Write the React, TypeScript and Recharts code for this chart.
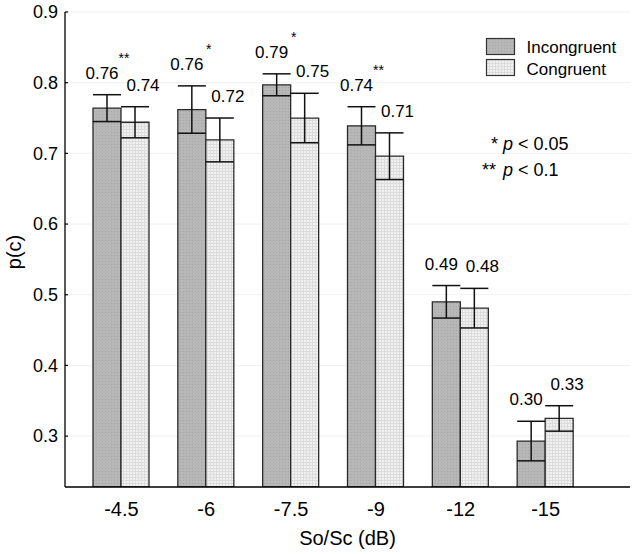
import React from 'react';
import { BarChart, Bar, XAxis, YAxis, CartesianGrid, ErrorBar, LabelList, Legend, Label } from 'recharts';

const categories = ['-4.5', '-6', '-7.5', '-9', '-12', '-15'];
const incongruent = [0.764, 0.762, 0.797, 0.739, 0.49, 0.293];
const incongruentErr = [0.019, 0.0335, 0.0155, 0.027, 0.023, 0.028];
const congruent = [0.744, 0.719, 0.75, 0.696, 0.481, 0.325];
const congruentErr = [0.022, 0.031, 0.035, 0.033, 0.028, 0.018];
const incongruentLabels = ['0.76', '0.76', '0.79', '0.74', '0.49', '0.30'];
const congruentLabels = ['0.74', '0.72', '0.75', '0.71', '0.48', '0.33'];
const significance = ['**', '*', '*', '**', '', ''];
const yTicks = [0.3, 0.4, 0.5, 0.6, 0.7, 0.8, 0.9];
const Y_MIN = 0.228;
const Y_MAX = 0.9;

const data = categories.map((c, i) => ({
  cat: c,
  inc: incongruent[i],
  incErr: incongruentErr[i],
  con: congruent[i],
  conErr: congruentErr[i],
}));

const FONT = 'Liberation Sans, Arial, Helvetica, sans-serif';

const makeValueLabel = (errs: number[], labels: string[], dx: number, withSig: boolean) => (props: any) => {
  const vb = props.viewBox || props;
  const x = Number(vb.x);
  const y = Number(vb.y);
  const width = Number(vb.width);
  const height = Number(vb.height);
  const index = props.index;
  const value = Number(props.value);
  const pxPerUnit = height / (value - Y_MIN);
  const capY = y - errs[index] * pxPerUnit;
  const cx = x + width / 2 + dx;
  const baseY = capY - 16;
  return (
    <g>
      <text x={cx} y={baseY} textAnchor="middle" fontSize={17} fill="#000" fontFamily={FONT}>
        {labels[index]}
      </text>
      {withSig && significance[index] ? (
        <text x={x + width + 3} y={baseY - 16} textAnchor="middle" fontSize={14} fill="#000" fontFamily={FONT}>
          {significance[index]}
        </text>
      ) : null}
    </g>
  );
};

const LeftTick = (props: any) => {
  const { x, y, payload } = props;
  return (
    <g>
      <line x1={x + 7} x2={x + 10} y1={y} y2={y} stroke="#000" strokeWidth={1.2} />
      <text x={x} y={y} dy="0.35em" textAnchor="end" fontSize={18} fill="#000" fontFamily={FONT}>
        {Number(payload.value).toFixed(1)}
      </text>
    </g>
  );
};

const RightTick = (props: any) => {
  const { x, y } = props;
  return <line x1={x - 3} x2={x} y1={y} y2={y} stroke="#000" strokeWidth={1.2} />;
};

const YTitle = () => (
  <text x={21} y={252} transform="rotate(-90 21 252)" textAnchor="middle" fontSize={20} fill="#000" fontFamily={FONT}>
    p(c)
  </text>
);

const LegendBox = () => (
  <svg width={150} height={160} style={{ display: 'block', fontFamily: FONT }}>
    <defs>
      <pattern id="incPatL" width="3" height="3" patternUnits="userSpaceOnUse">
        <rect width="3" height="3" fill="#b7b7b7" />
        <rect width="1" height="1" fill="#a6a6a6" />
      </pattern>
      <pattern id="conPatL" width="3" height="3" patternUnits="userSpaceOnUse">
        <rect width="3" height="3" fill="#f1f1f1" />
        <path d="M0 0.5H3M0.5 0V3" stroke="#dcdcdc" strokeWidth="1" />
      </pattern>
    </defs>
    <rect x={6.5} y={8.5} width={28} height={16} fill="url(#incPatL)" stroke="#333" strokeWidth={1.2} />
    <rect x={6.5} y={29.5} width={28} height={16} fill="url(#conPatL)" stroke="#333" strokeWidth={1.2} />
    <text x={46.5} y={22.5} fontSize={17} fill="#000">Incongruent</text>
    <text x={46.5} y={45} fontSize={17} fill="#000">Congruent</text>
    <text x={11} y={120} fontSize={18} fill="#000">*</text>
    <text x={23} y={120} fontSize={18} fill="#000">
      <tspan fontStyle="italic">p</tspan> &lt; 0.05
    </text>
    <text x={2} y={146} fontSize={18} fill="#000">**</text>
    <text x={23} y={146} fontSize={18} fill="#000">
      <tspan fontStyle="italic">p</tspan> &lt; 0.1
    </text>
  </svg>
);

export default function App() {
  return (
    <div style={{ position: 'absolute', left: 0, top: 0, width: 637, height: 554, background: '#fff', fontFamily: FONT }}>
      <BarChart
        width={637}
        height={554}
        data={data}
        margin={{ top: 12, right: 7, bottom: 0, left: 0 }}
        barGap={0}
        barSize={28}
      >
        <defs>
          <pattern id="incPat" width="3" height="3" patternUnits="userSpaceOnUse">
            <rect width="3" height="3" fill="#b7b7b7" />
            <rect width="1" height="1" fill="#a6a6a6" />
          </pattern>
          <pattern id="conPat" width="3" height="3" patternUnits="userSpaceOnUse">
            <rect width="3" height="3" fill="#f1f1f1" />
            <path d="M0 0.5H3M0.5 0V3" stroke="#dcdcdc" strokeWidth="1" />
          </pattern>
        </defs>
        <CartesianGrid vertical={false} stroke="#f1f1f1" />
        <XAxis
          dataKey="cat"
          padding={{ left: 14, right: 42 }}
          tickLine={false}
          tickSize={0}
          tickMargin={15}
          height={67}
          axisLine={{ stroke: '#000', strokeWidth: 1.3 }}
          tick={{ fill: '#000', fontSize: 20 }}
        >
          <Label value="So/Sc (dB)" position="insideBottom" offset={9} fontSize={20} fill="#000" />
        </XAxis>
        <XAxis
          xAxisId="top"
          dataKey="cat"
          orientation="top"
          height={0}
          tick={false}
          tickLine={false}
          padding={{ left: 14, right: 42 }}
          axisLine={{ stroke: '#000', strokeWidth: 1.3 }}
        />
        <YAxis
          domain={[Y_MIN, Y_MAX]}
          ticks={yTicks}
          allowDataOverflow
          width={65}
          tickLine={false}
          tickSize={0}
          tickMargin={7}
          tick={<LeftTick />}
          axisLine={{ stroke: '#000', strokeWidth: 1.3 }}
        >
          <Label content={<YTitle />} />
        </YAxis>
        <YAxis
          yAxisId="right"
          orientation="right"
          domain={[Y_MIN, Y_MAX]}
          ticks={yTicks}
          allowDataOverflow
          width={0}
          tickLine={false}
          tickSize={0}
          tickMargin={0}
          tick={<RightTick />}
          axisLine={{ stroke: '#000', strokeWidth: 1.3 }}
        />
        <Legend
          layout="horizontal"
          verticalAlign="middle"
          align="center"
          content={<LegendBox />}
          wrapperStyle={{ position: 'absolute', left: 480, top: 30, width: 150, height: 160 }}
        />
        <Bar dataKey="inc" name="Incongruent" fill="url(#incPat)" stroke="#2a2a2a" strokeWidth={1.3} isAnimationActive={false}>
          <ErrorBar dataKey="incErr" width={14} stroke="#111" strokeWidth={1.5} direction="y" />
          <LabelList dataKey="inc" content={makeValueLabel(incongruentErr, incongruentLabels, -5, true)} />
        </Bar>
        <Bar dataKey="con" name="Congruent" fill="url(#conPat)" stroke="#2a2a2a" strokeWidth={1.3} isAnimationActive={false}>
          <ErrorBar dataKey="conErr" width={14} stroke="#111" strokeWidth={1.5} direction="y" />
          <LabelList dataKey="con" content={makeValueLabel(congruentErr, congruentLabels, 8, false)} />
        </Bar>
      </BarChart>
    </div>
  );
}
